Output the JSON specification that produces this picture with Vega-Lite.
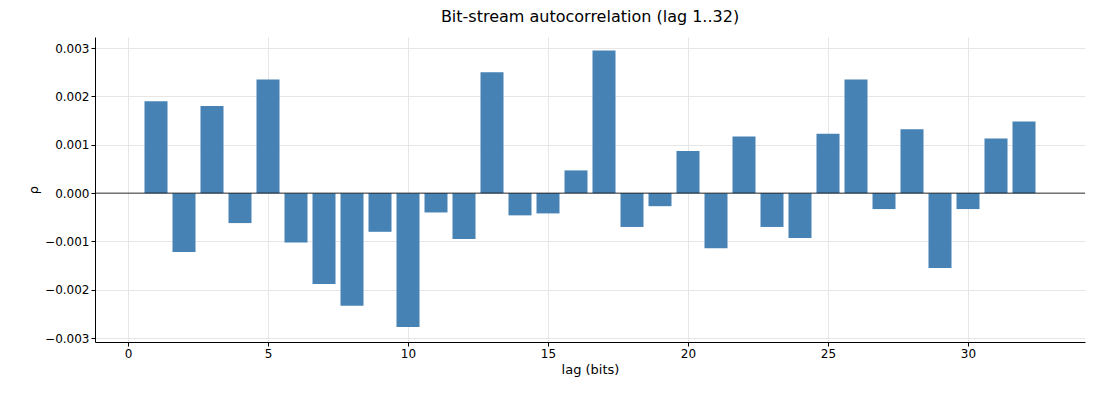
{
  "$schema": "https://vega.github.io/schema/vega-lite/v6.json",
  "autosize": {"type": "none"},
  "padding": {"left": 95, "top": 37, "right": 15, "bottom": 58},
  "width": 990,
  "height": 305,
  "title": {"text": "Bit-stream autocorrelation (lag 1..32)", "fontSize": 16, "fontWeight": "normal", "font": "DejaVu Sans", "offset": 12},
  "config": {
    "view": {"stroke": null},
    "axis": {"labelFont": "DejaVu Sans", "titleFont": "DejaVu Sans", "labelFontSize": 12, "titleFontSize": 13, "titleFontWeight": "normal", "labelColor": "#000", "titleColor": "#000", "gridColor": "#e6e6e6", "domainColor": "#000", "tickColor": "#000"}
  },
  "data": {"values": [
    {"lag": 1, "rho": 0.0019}, {"lag": 2, "rho": -0.00122}, {"lag": 3, "rho": 0.0018}, {"lag": 4, "rho": -0.00062},
    {"lag": 5, "rho": 0.00235}, {"lag": 6, "rho": -0.00102}, {"lag": 7, "rho": -0.00188}, {"lag": 8, "rho": -0.00233},
    {"lag": 9, "rho": -0.0008}, {"lag": 10, "rho": -0.00277}, {"lag": 11, "rho": -0.0004}, {"lag": 12, "rho": -0.00095},
    {"lag": 13, "rho": 0.0025}, {"lag": 14, "rho": -0.00046}, {"lag": 15, "rho": -0.00042}, {"lag": 16, "rho": 0.00047},
    {"lag": 17, "rho": 0.00295}, {"lag": 18, "rho": -0.0007}, {"lag": 19, "rho": -0.00027}, {"lag": 20, "rho": 0.00087},
    {"lag": 21, "rho": -0.00114}, {"lag": 22, "rho": 0.00117}, {"lag": 23, "rho": -0.0007}, {"lag": 24, "rho": -0.00093},
    {"lag": 25, "rho": 0.00123}, {"lag": 26, "rho": 0.00235}, {"lag": 27, "rho": -0.00033}, {"lag": 28, "rho": 0.00132},
    {"lag": 29, "rho": -0.00155}, {"lag": 30, "rho": -0.00033}, {"lag": 31, "rho": 0.00113}, {"lag": 32, "rho": 0.00148}
  ]},
  "layer": [
    {
      "mark": {"type": "bar", "size": 23, "color": "#4682b4"},
      "encoding": {
        "x": {"field": "lag", "type": "quantitative", "scale": {"domain": [-1, 34], "nice": false, "zero": false},
              "axis": {"title": "lag (bits)", "values": [0, 5, 10, 15, 20, 25, 30], "grid": true, "tickSize": 4}},
        "y": {"field": "rho", "type": "quantitative", "scale": {"domain": [-0.00308, 0.00323], "nice": false},
              "axis": {"title": "ρ", "values": [-0.003, -0.002, -0.001, 0, 0.001, 0.002, 0.003], "format": ".3f", "grid": true, "tickSize": 4}}
      }
    },
    {
      "data": {"values": [{"z": 0}]},
      "mark": {"type": "rule", "color": "#000", "strokeWidth": 0.8},
      "encoding": {"y": {"field": "z", "type": "quantitative"}}
    }
  ]
}
